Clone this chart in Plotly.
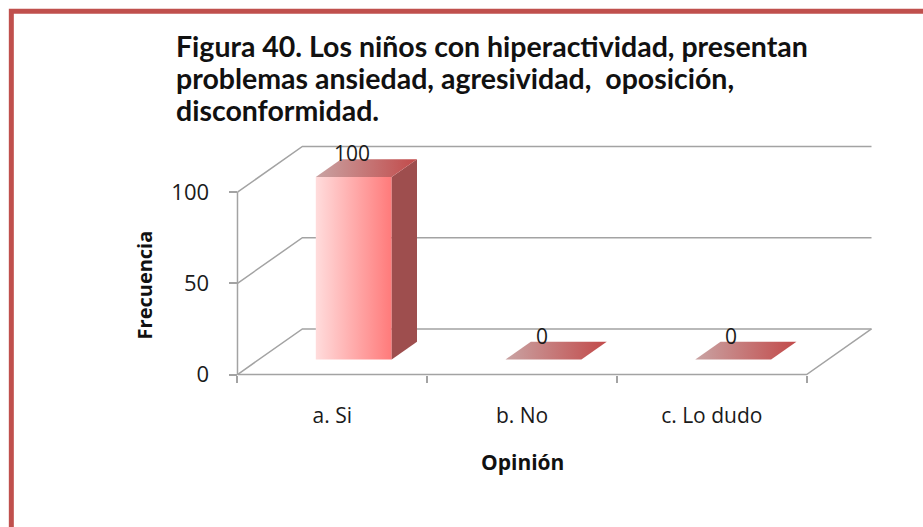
import plotly.graph_objects as go

# Chart data
categories = ["a. Si", "b. No", "c. Lo dudo"]
frecuencia = [100, 0, 0]
y_ticks = [0, 50, 100]

title_lines = [
    "Figura 40. Los niños con hiperactividad, presentan",
    "problemas ansiedad, agresividad,  oposición,",
    "disconformidad.",
]

# Pseudo-3D geometry (data units)
DX = 0.342        # depth offset along x (category units)
DV = 25.0         # depth offset along y (value units)
BW = 0.40         # bar front width
F0, F1 = 0.33, 0.72   # bar depth span as fraction of the floor depth
VMAX = 100

# Pixel scale of the plot
W, H = 923, 527
PX_X = 190.0      # pixels per category unit
PX_V = 1.83       # pixels per value unit
ORIGIN_X, ORIGIN_Y = 237, 375   # pixel of (x=-0.5, v=0)
XPAD, VPAD = 0.05, 3.0

x_lo, x_hi = -0.5 - XPAD, 2.5 + DX + XPAD
v_lo, v_hi = -VPAD, VMAX + DV + VPAD
pw = (x_hi - x_lo) * PX_X
ph = (v_hi - v_lo) * PX_V
m_l = ORIGIN_X - XPAD * PX_X
m_b = H - (ORIGIN_Y + VPAD * PX_V)
m_t = H - m_b - ph
m_r = W - m_l - pw


def paper_x(px):
    return (px - m_l) / pw


def paper_y(py):
    return (H - m_b - py) / ph


GRID = "#A3A3A3"
TEXT = "#1A1A1A"
fig = go.Figure()

# Walls: grid lines on the side and back walls, floor outline, front value axis
gx, gy = [], []
for t in y_ticks:
    gx += [-0.5, -0.5 + DX, 2.5 + DX, None]
    gy += [t, t + DV, t + DV, None]
gx += [-0.5, 2.5, 2.5 + DX, None, -0.5, -0.5]
gy += [0, 0, DV, None, 0, VMAX]
fig.add_trace(go.Scatter(x=gx, y=gy, mode="lines",
                         line=dict(color=GRID, width=1.5),
                         hoverinfo="skip", showlegend=False))

# 3D bars: front, side and top faces
for i, v in enumerate(frecuencia):
    x0 = i - BW / 2 + F0 * DX
    x1 = i + BW / 2 + F0 * DX
    x2 = x1 + (F1 - F0) * DX
    x3 = x0 + (F1 - F0) * DX
    v0 = F0 * DV
    vb = F1 * DV
    if v > 0:
        fig.add_trace(go.Scatter(
            x=[x0, x1, x1, x0, x0], y=[v0, v0, v0 + v, v0 + v, v0],
            mode="lines", fill="toself", line=dict(width=0),
            fillgradient=dict(type="horizontal",
                              colorscale=[[0, "#FFDCDC"], [1, "#FF7A7A"]]),
            hoverinfo="skip", showlegend=False))
        fig.add_trace(go.Scatter(
            x=[x1, x2, x2, x1, x1], y=[v0, vb, vb + v, v0 + v, v0],
            mode="lines", fill="toself", line=dict(width=0),
            fillcolor="#9E4E4E", hoverinfo="skip", showlegend=False))
    fig.add_trace(go.Scatter(
        x=[x0, x1, x2, x3, x0], y=[v0 + v, v0 + v, vb + v, vb + v, v0 + v],
        mode="lines", fill="toself", line=dict(width=0),
        fillgradient=dict(type="horizontal",
                          colorscale=[[0, "#C9A3A3"], [1, "#C24A4A"]]),
        hoverinfo="skip", showlegend=False))
    fig.add_annotation(x=(x0 + x1) / 2 - 0.01, y=vb + v, text=str(v),
                       showarrow=False, xanchor="center", yanchor="middle",
                       yshift=6,
                       font=dict(family="Open Sans", size=21, color=TEXT))

# Title lines
for k, line in enumerate(title_lines):
    fig.add_annotation(xref="paper", yref="paper",
                       x=paper_x(173), y=paper_y(45 + 32.5 * k),
                       xanchor="left", yanchor="middle", showarrow=False,
                       text="<b>" + line + "</b>",
                       font=dict(family="Lato", size=28.5, color="#111111"))

# Axis titles
fig.add_annotation(xref="paper", yref="paper", x=paper_x(522), y=paper_y(463),
                   xanchor="center", yanchor="middle",
                   text="<b>Opinión</b>", showarrow=False,
                   font=dict(family="Open Sans", size=21, color="#111111"))
fig.add_annotation(xref="paper", yref="paper", x=paper_x(144), y=paper_y(285),
                   xanchor="center", yanchor="middle",
                   text="<b>Frecuencia</b>", showarrow=False, textangle=-90,
                   font=dict(family="Open Sans", size=20, color="#111111"))

# Outer frame
fig.add_shape(type="rect", xref="paper", yref="paper",
              x0=paper_x(10.5), y0=paper_y(560), x1=paper_x(960), y1=paper_y(10.5),
              line=dict(color="#C0504D", width=5), fillcolor="rgba(0,0,0,0)",
              layer="above")

fig.update_layout(
    width=W, height=H,
    margin=dict(l=m_l, r=m_r, t=m_t, b=m_b, autoexpand=False),
    paper_bgcolor="white", plot_bgcolor="white",
    showlegend=False,
    xaxis=dict(range=[x_lo, x_hi], anchor="free",
               position=paper_y(ORIGIN_Y),
               tickmode="array", tickvals=list(range(len(categories))),
               ticktext=categories, ticks="", showgrid=False, zeroline=False,
               showline=False, ticklabelstandoff=26,
               tickfont=dict(family="Open Sans", size=21, color=TEXT),
               minor=dict(tickmode="array", tickvals=[-0.5, 0.5, 1.5, 2.5],
                          ticks="outside", ticklen=7, tickwidth=1.5,
                          tickcolor=GRID, showgrid=False)),
    yaxis=dict(range=[v_lo, v_hi], anchor="free",
               position=paper_x(ORIGIN_X),
               tickmode="array", tickvals=y_ticks, ticks="outside",
               ticklen=8, tickwidth=1.5, tickcolor=GRID,
               showgrid=False, zeroline=False, showline=False,
               ticklabelstandoff=16,
               tickfont=dict(family="Open Sans", size=22, color=TEXT)),
)

fig.write_html("out.html")
